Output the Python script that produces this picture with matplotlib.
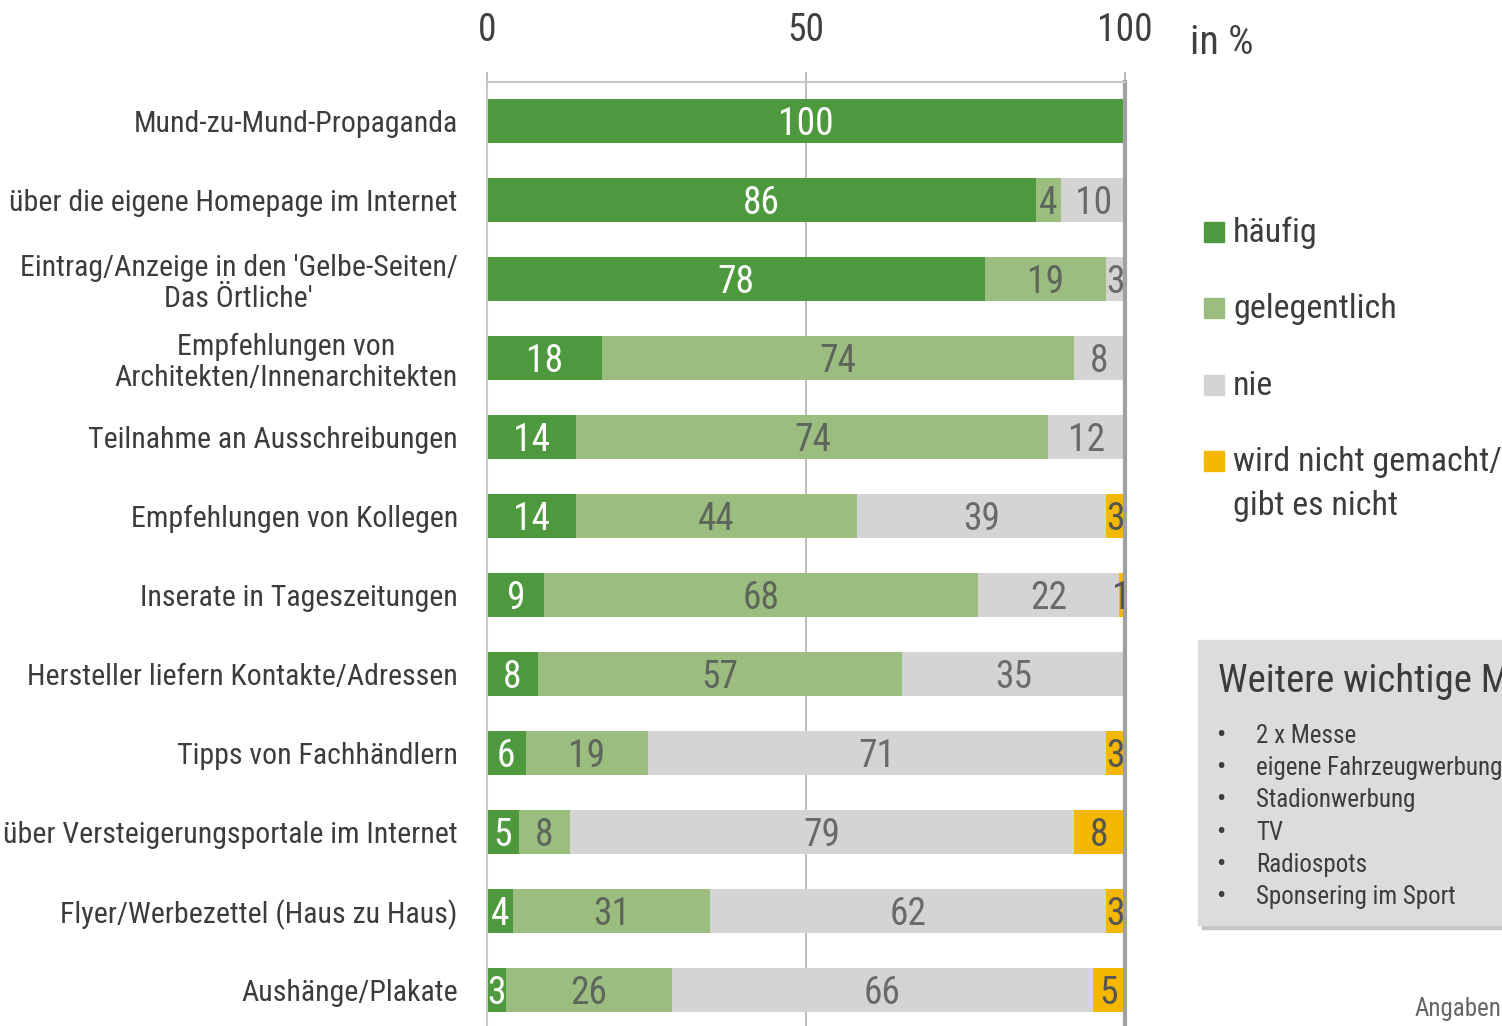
import matplotlib
matplotlib.use("Agg")
import matplotlib.pyplot as plt
import numpy as np
from matplotlib.patches import Rectangle

plt.rcParams["font.family"] = ["Roboto Condensed", "Liberation Sans", "DejaVu Sans"]

# --- data -------------------------------------------------------------------
categories = [
    "Mund-zu-Mund-Propaganda",
    "über die eigene Homepage im Internet",
    "Eintrag/Anzeige in den 'Gelbe-Seiten/\nDas Örtliche'",
    "Empfehlungen von\nArchitekten/Innenarchitekten",
    "Teilnahme an Ausschreibungen",
    "Empfehlungen von Kollegen",
    "Inserate in Tageszeitungen",
    "Hersteller liefern Kontakte/Adressen",
    "Tipps von Fachhändlern",
    "über Versteigerungsportale im Internet",
    "Flyer/Werbezettel (Haus zu Haus)",
    "Aushänge/Plakate",
]
haeufig = [100, 86, 78, 18, 14, 14, 9, 8, 6, 5, 4, 3]
gelegentlich = [0, 4, 19, 74, 74, 44, 68, 57, 19, 8, 31, 26]
nie = [0, 10, 3, 8, 12, 39, 22, 35, 71, 79, 62, 66]
nicht_gemacht = [0, 0, 0, 0, 0, 3, 1, 0, 3, 8, 3, 5]

series_names = ["häufig", "gelegentlich", "nie", "wird nicht gemacht/\ngibt es nicht"]
series_colors = ["#4e993e", "#9bbd80", "#d4d4d4", "#f4b800"]
label_colors = ["white", "#5e665c", "#6a6a6a", "#555555"]

extra_title = "Weitere wichtige Maßnahmen"
extra_items = ["2 x Messe", "eigene Fahrzeugwerbung", "Stadionwerbung", "TV",
               "Radiospots", "Sponsering im Sport"]

# --- figure -----------------------------------------------------------------
W, H = 1502, 1026
fig = plt.figure(figsize=(W / 100, H / 100), dpi=100)
fig.patch.set_facecolor("white")

ax = fig.add_axes([487 / W, 0, (1125 - 487) / W, 1 - 82 / H])

vals = np.array([haeufig, gelegentlich, nie, nicht_gemacht], dtype=float)
vals = vals / vals.sum(axis=0) * 100  # 100 % stacked
y = np.arange(len(categories))
left = np.zeros(len(categories))
for k, raw in enumerate([haeufig, gelegentlich, nie, nicht_gemacht]):
    ax.barh(y, vals[k], left=left, height=0.56, color=series_colors[k], zorder=2)
    for i, v in enumerate(raw):
        if v > 0:
            ax.text(left[i] + vals[k][i] / 2, i + 0.04, str(v), ha="center", va="center",
                    fontsize=27, color=label_colors[k], zorder=3)
    left += vals[k]

ax.set_xlim(0, 100)
ax.set_ylim(11.456, -0.494)
ax.set_xticks([0, 50, 100])
ax.xaxis.tick_top()
ax.tick_params(axis="x", length=7, width=1.3, color="#b5b5b5", pad=17,
               labelsize=27, labelcolor="#404040")
ax.set_yticks(y)
ax.set_yticklabels(categories)
ax.tick_params(axis="y", length=0, pad=21, labelsize=21.5, labelcolor="#3c3c3c")
for lab in ax.get_yticklabels():
    lab.set_multialignment("center")
    lab.set_linespacing(1.15)

ax.xaxis.grid(True, color="#b5b5b5", lw=1.3)
ax.set_axisbelow(True)
ax.spines["bottom"].set_visible(False)
ax.spines["left"].set_color("#c8c8c8")
ax.spines["left"].set_linewidth(1.5)
ax.spines["top"].set_color("#c8c8c8")
ax.spines["top"].set_linewidth(1.5)
ax.spines["right"].set_color("#a0a0a0")
ax.spines["right"].set_linewidth(3)

# unit note
fig.text(1190 / W, 1 - 54 / H, "in %", fontsize=29, color="#404040",
         va="baseline", ha="left")

# legend drawn by hand: visual centre of each entry in pixels
leg_center = [232, 308, 385, 461]
for name, col, cy in zip(series_names, series_colors, leg_center):
    fig.patches.append(Rectangle((1204 / W, 1 - (cy + 10) / H), 20 / W, 20 / H,
                                 transform=fig.transFigure, color=col))
    for j, line in enumerate(name.split("\n")):
        fig.text(1233 / W, 1 - (cy + 10 + 44 * j) / H, line, fontsize=24.5,
                 color="#3c3c3c", ha="left", va="baseline")

# grey info box
fig.patches.append(Rectangle((1202 / W, 1 - 929 / H), 320 / W, (929 - 644) / H,
                             transform=fig.transFigure, color="#c4c4c4", zorder=0))
fig.patches.append(Rectangle((1198 / W, 1 - 925 / H), 320 / W, (925 - 640) / H,
                             transform=fig.transFigure, color="#dcdcdc", zorder=1))
fig.text(1218 / W, 1 - 692 / H, extra_title, fontsize=28, color="#3c3c3c",
         ha="left", va="baseline")
for j, item in enumerate(extra_items):
    yy = 1 - (743 + 32.2 * j) / H
    fig.text(1216 / W, yy, "•", fontsize=20, color="#3c3c3c", ha="left", va="baseline")
    fig.text(1256 / W, yy, item, fontsize=18, color="#3c3c3c", ha="left", va="baseline")

fig.text(1415 / W, 1 - 1016 / H, "Angaben", fontsize=18, color="#666666",
         ha="left", va="baseline")

fig.savefig("out.png", dpi=100)
